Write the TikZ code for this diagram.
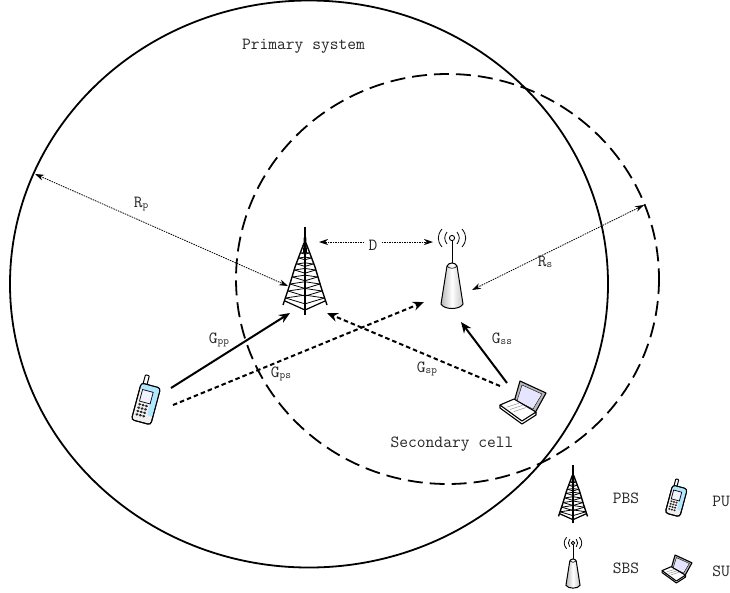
\documentclass[tikz,border=0pt]{standalone}
\usetikzlibrary{arrows.meta,calc}
\definecolor{labcol}{gray}{0.15}
\newcommand{\subsc}[1]{\raisebox{-1pt}{\fontsize{11}{11}\selectfont #1}}
\tikzset{
  region/.style={line width=1.8pt},
  regiondash/.style={line width=1.8pt,dash pattern=on 15pt off 7pt},
  lab/.style={text=labcol,font=\ttfamily\fontsize{17}{19}\selectfont,inner sep=0pt},
  dimline/.style={line width=.8pt,dash pattern=on 1.5pt off 1pt,{Stealth[length=9pt,width=6pt]}-{Stealth[length=9pt,width=6pt]}},
  dimhalf/.style={line width=.8pt,dash pattern=on 1.5pt off 1pt,-{Stealth[length=9pt,width=6pt]}},
  linksolid/.style={line width=2pt,-{Stealth[length=11pt,width=9pt]}},
  linkdash/.style={line width=2pt,dash pattern=on 4.5pt off 3pt,-{Stealth[length=11pt,width=9pt]}},
  tower/.pic={
    \draw[line width=1.2pt] (0,-88)--(0,0);
    \fill (-2,-62)--(-1.2,-78)--(1.2,-78)--(2,-62)--cycle;
    \draw[line width=1.4pt] (-1,-72)--(-10,-48)--(-16,-28)--(-22,-10);
    \draw[line width=1.4pt] (1,-72)--(10,-48)--(16,-28)--(22,-10);
    \foreach \yy/\ww in {-62/4,-57/6,-51/8,-45/10.5,-38/12.5,-31/15,-24/17,-17/19.5}{
      \draw[line width=.8pt] (-\ww,\yy)--(0,\yy+.3*\ww)--(\ww,\yy);
      \draw[line width=.8pt] (-\ww,\yy)--(0,\yy-.15*\ww)--(\ww,\yy);
    }
    \draw[line width=1.2pt] (-20,-14)--(0,-5)--(20,-14);
  },
  sbs/.pic={
    \draw[line width=1pt] (0,3)--(0,26);
    \draw[line width=.9pt,fill=white] (0,0) circle (2.6);
    \draw[line width=.8pt] (-5,-6) .. controls (-8,-2) and (-8,2) .. (-5,6);
    \draw[line width=.8pt] (5,-6) .. controls (8,-2) and (8,2) .. (5,6);
    \draw[line width=.8pt] (-10,-9) .. controls (-15,-3) and (-15,3) .. (-10,9);
    \draw[line width=.8pt] (10,-9) .. controls (15,-3) and (15,3) .. (10,9);
    \draw[line width=1pt,left color=gray!55,right color=gray!45,middle color=white]
      (-5,28) -- (-11,66) .. controls (-8,72) and (8,72) .. (11,66) -- (5,28) .. controls (3,24) and (-3,24) .. (-5,28) -- cycle;
    \draw[line width=.6pt] (-5,28) .. controls (-3,31) and (3,31) .. (5,28);
  },
  phone/.pic={
    \begin{scope}[rotate=-15]
    \draw[line width=1pt,fill=white,rounded corners=.8pt] (-8,-24) rectangle (-4,-12);
    \draw[line width=1pt,fill=gray!12,rounded corners=3pt] (-10,-15) rectangle (10,23);
    \fill[rounded corners=2pt,fill=blue!30!cyan!30] (-9.5,-14.5) rectangle (9.5,-9);
    \fill[rounded corners=2pt,fill=blue!30!cyan!30] (4,-14) rectangle (9.5,15);
    \draw[line width=1pt,rounded corners=3pt] (-10,-15) rectangle (10,23);
    \draw[line width=.7pt,fill=blue!6] (-7,-9) rectangle (4,3);
    \foreach \py in {6,9.5,13,16.5}
      \foreach \px in {-6,-2.5,1}
        \fill[black!85] (\px,\py) ellipse (1.6 and 1.3);
    \end{scope}
  },
  laptop/.pic={
    \draw[line width=1.1pt,fill=gray!55,line join=round] (-3,-20)--(23,-8)--(12,12)--(-9,1)--cycle;
    \draw[line width=.4pt,fill=blue!10] (-1,-16)--(19,-7)--(10,8)--(-6,0)--cycle;
    \draw[line width=1.1pt,fill=white,line join=round] (-23,4)--(-9,-2)--(13,11)--(-1,20)--cycle;
    \foreach \t in {0.2,0.4,0.6}
      \draw[gray,line width=.4pt] ($(-20,4)!\t!(-2,15)$)--($(-7,0)!\t!(9,11)$);
    \draw[line width=1.1pt,line join=round] (-23,4)--(-23,7)--(-1,23)--(13,14)--(13,11);
  }
}
\begin{document}
\begin{tikzpicture}[x=1pt,y=-1pt]
\useasboundingbox (0,0) rectangle (730,592);
\fill[white] (0,0) rectangle (730,592);
% regions
\draw[region] (309,284) ellipse (299 and 283.5);
\draw[regiondash] (447.5,279) ellipse (211.5 and 205);
% icons
\pic at (305,315) {tower};
\pic at (452,238) {sbs};
\pic at (147,400) {phone};
\pic at (523,401) {laptop};
\pic[scale=.66] at (573,523) {tower};
\pic[scale=.64] at (573,543) {sbs};
\pic[scale=.76] at (677,498) {phone};
\pic[scale=.65] at (677,568) {laptop};
% anchors
\coordinate (rpA) at (35,174);
\coordinate (rpB) at (288,286);
\coordinate (rsA) at (472,290);
\coordinate (rsB) at (644,205);
\coordinate (dA) at (319,242);
\coordinate (dB) at (433,242);
\coordinate (puA) at (171,388);
\coordinate (puB) at (173,405);
\coordinate (pbsIn) at (290,313);
\coordinate (pbsIn2) at (327,313);
\coordinate (sbsIn) at (424,302);
\coordinate (sbsIn2) at (461,322);
\coordinate (suA) at (507,383);
\coordinate (suB) at (500,386);
% labels
\node[lab] (prim) at (303.5,46) {Primary system};
\node[lab] (sec) at (452,444) {Secondary cell};
\node[lab] (D) at (373,245) {D};
\node[lab] (Rp) at (141,204) {R\subsc{p}};
\node[lab] (Rs) at (545,262) {R\subsc{s}};
\node[lab] (Gpp) at (219,340) {G\subsc{pp}};
\node[lab] (Gps) at (281,374) {G\subsc{ps}};
\node[lab] (Gsp) at (427,369) {G\subsc{sp}};
\node[lab] (Gss) at (502,339) {G\subsc{ss}};
\node[lab] (lPBS) at (626,498) {PBS};
\node[lab] (lPU) at (721,501) {PU};
\node[lab] (lSBS) at (626,568) {SBS};
\node[lab] (lSU) at (721,571) {SU};
% connectors
\draw[dimline] (rpA)--(rpB);
\draw[dimline] (rsA)--(rsB);
\draw[dimhalf] ($(D.west)+(-4,-3)$) -- (dA);
\draw[dimhalf] ($(D.east)+(4,-3)$) -- (dB);
\draw[linksolid] (puA)--(pbsIn);
\draw[linkdash] (puB)--(sbsIn);
\draw[linkdash] (suB)--(pbsIn2);
\draw[linksolid] (suA)--(sbsIn2);
\end{tikzpicture}
\end{document}
